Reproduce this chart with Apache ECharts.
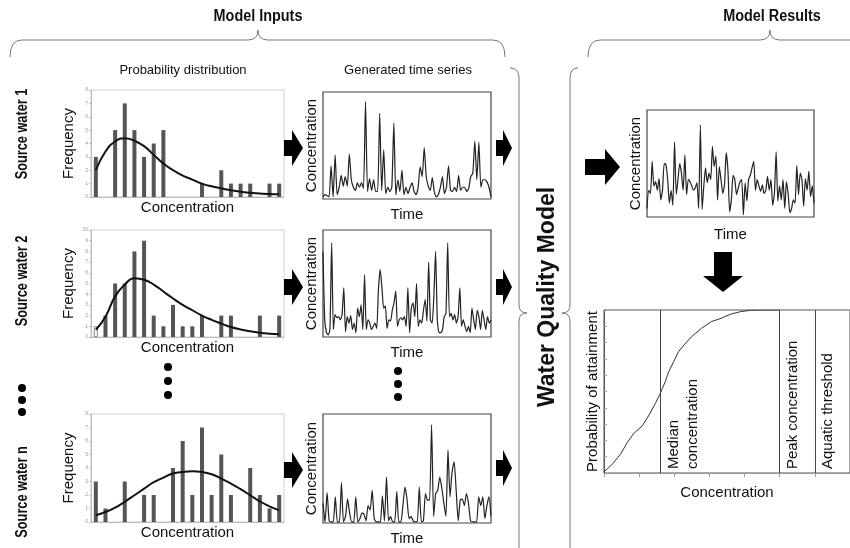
<!DOCTYPE html>
<html>
<head>
<meta charset="utf-8" />
<title>Water quality model</title>
<script src="https://cdn.jsdelivr.net/npm/echarts@6/dist/echarts.min.js"></script>
<style>
    html, body { margin: 0; padding: 0; background: #fff; }
    #main { width: 850px; height: 548px; }
</style>
</head>
<body>
<div id="main"></div>
<script type="text/javascript">
    // histogram bins (concentration classes)
    var binLabels = ['c1', 'c2', 'c3', 'c4', 'c5', 'c6', 'c7', 'c8', 'c9', 'c10',
                     'c11', 'c12', 'c13', 'c14', 'c15', 'c16', 'c17', 'c18', 'c19', 'c20'];

    // source water 1
    var hist1 = [3, 0, 5, 7, 5, 3, 4, 5, 0, 0, 0, 1, 0, 2, 1, 1, 1, 0, 1, 1];
    var fit1 = [2.0, 3.4, 4.15, 4.4, 4.2, 3.8, 3.15, 2.5, 2.0, 1.6, 1.3, 1.0, 0.8, 0.65, 0.5, 0.4, 0.32, 0.27, 0.22, 0.2];
    // source water 2
    var hist2 = [1, 2, 5, 5, 8, 9, 2, 1, 3, 1, 1, 2, 0, 2, 2, 0, 0, 2, 0, 2];
    var fit2 = [0.68, 1.9, 3.8, 4.9, 5.5, 5.35, 4.9, 4.25, 3.6, 3.0, 2.5, 2.0, 1.6, 1.25, 0.93, 0.7, 0.53, 0.4, 0.31, 0.25];
    // source water n
    var hist3 = [3, 1, 0, 3, 0, 2, 2, 0, 4, 6, 2, 7, 2, 5, 2, 0, 4, 2, 1, 2];
    var fit3 = [0.5, 0.74, 1.06, 1.5, 1.98, 2.47, 2.95, 3.29, 3.59, 3.71, 3.76, 3.71, 3.54, 3.22, 2.85, 2.43, 1.98, 1.53, 1.16, 0.87];
    var histMax = [8, 10, 8];

    // generated time series (relative concentration, 0-100)
    var ts1 = [2, 4, 3, 2, 31, 2, 41, 4, 11, 22, 12, 21, 12, 42, 18, 11, 8, 15, 11, 15, 10, 91, 7, 19, 8, 18, 7, 7,
               80, 8, 46, 5, 11, 7, 11, 71, 4, 18, 7, 27, 4, 11, 5, 11, 15, 7, 4, 11, 30, 21, 48, 21, 12, 8, 20,
               7, 2, 4, 11, 21, 5, 11, 31, 8, 7, 11, 7, 22, 8, 11, 11, 7, 10, 21, 24, 54, 18, 53, 11, 18, 18, 16, 11, 2];
    var ts2 = [80, 16, 4, 2, 7, 88, 7, 21, 18, 19, 16, 21, 46, 5, 19, 13, 20, 7, 13, 4, 27, 19, 30, 7, 58, 7, 16,
               13, 7, 10, 13, 8, 44, 63, 47, 27, 29, 8, 16, 15, 25, 32, 43, 10, 16, 18, 16, 19, 10, 46, 4, 27, 32,
               19, 50, 10, 16, 13, 25, 35, 15, 70, 16, 13, 38, 80, 16, 4, 4, 7, 19, 22, 88, 19, 22, 16, 21, 13, 19,
               46, 10, 16, 10, 5, 10, 4, 27, 16, 7, 25, 19, 7, 25, 16, 7, 19, 13, 16];
    var tsN = [18, 1, 28, 2, 1, 1, 24, 1, 1, 37, 1, 6, 22, 9, 1, 1, 24, 1, 4, 9, 8, 2, 16, 12, 30, 4, 1, 1, 1, 25,
               2, 42, 2, 6, 1, 1, 29, 1, 1, 16, 33, 22, 4, 6, 2, 1, 1, 33, 1, 2, 27, 21, 21, 90, 6, 27, 30, 42, 32,
               18, 6, 67, 24, 47, 56, 30, 2, 21, 22, 16, 27, 18, 2, 1, 1, 1, 24, 16, 24, 4, 16, 24, 6];

    // model result time series
    var resultTs = [8, 25, 22, 52, 29, 33, 25, 36, 16, 25, 50, 49, 35, 13, 25, 11, 70, 21, 35, 50, 41, 25, 58, 21,
                    35, 33, 29, 25, 27, 32, 8, 86, 7, 29, 46, 32, 41, 35, 66, 47, 57, 16, 47, 35, 22, 30, 60, 44,
                    5, 16, 39, 35, 21, 27, 33, 35, 2, 32, 15, 35, 39, 46, 52, 25, 35, 29, 24, 30, 22, 25, 38, 25,
                    35, 11, 22, 61, 15, 29, 16, 35, 8, 33, 21, 4, 8, 16, 13, 48, 21, 41, 35, 10, 36, 25, 43, 19, 29, 13];

    // probability of attainment curve
    var cdfX = [0, 0.25, 0.48, 0.67, 0.86, 1.09, 1.28, 1.46, 1.6, 1.74, 1.84, 1.98, 2.12, 2.3, 2.49, 2.77, 3.05,
                3.33, 3.61, 3.89, 4.17, 4.44, 5.0];
    var cdfY = [0.006, 0.057, 0.119, 0.19, 0.246, 0.289, 0.355, 0.426, 0.488, 0.559, 0.621, 0.682, 0.744, 0.791,
                0.836, 0.887, 0.928, 0.949, 0.975, 0.99, 0.998, 1, 1];
    var markerX = [1.6, 5.0, 6.0];
    var markerNames = ['Median\nconcentration', 'Peak concentration', 'Aquatic threshold'];

    var FONT = '"Liberation Sans", Arial, sans-serif';

    var grids = [
        { left: 91, top: 90, width: 193, height: 107 },
        { left: 91, top: 230, width: 193, height: 107 },
        { left: 91, top: 414, width: 193, height: 108 },
        { left: 323, top: 92, width: 168, height: 107 },
        { left: 323, top: 230, width: 168, height: 107 },
        { left: 323, top: 414, width: 168, height: 109 },
        { left: 647, top: 110, width: 167, height: 107 },
        { left: 604, top: 310, width: 252, height: 163 }
    ];
    grids.forEach(function (g, i) {
        g.show = true;
        g.backgroundColor = 'transparent';
        if (i < 3) { g.borderColor = '#cfcfcf'; g.borderWidth = 1; }
        else if (i < 7) { g.borderColor = '#444'; g.borderWidth = 1.2; }
        else { g.borderColor = '#555'; g.borderWidth = 1; }
    });

    var nameStyle = { fontFamily: FONT, fontSize: 15, color: '#111' };
    var xAxes = [], yAxes = [], series = [];

    // histograms with fitted distribution
    [[hist1, fit1], [hist2, fit2], [hist3, fit3]].forEach(function (pair, i) {
        xAxes.push({
            gridIndex: i, type: 'category', data: binLabels, boundaryGap: true,
            name: 'Concentration', nameLocation: 'middle', nameGap: 3, nameTextStyle: nameStyle,
            axisLine: { lineStyle: { color: '#bbb' } },
            axisTick: { length: 2, lineStyle: { color: '#bbb' } },
            axisLabel: { show: false }
        });
        yAxes.push({
            gridIndex: i, type: 'value', min: 0, max: histMax[i], interval: 1,
            name: 'Frequency', nameLocation: 'middle', nameGap: 15, nameTextStyle: nameStyle,
            axisLine: { show: true, lineStyle: { color: '#bbb' } },
            axisTick: { show: true, length: 2, lineStyle: { color: '#bbb' } },
            axisLabel: { fontSize: 5, color: '#999', margin: 3 },
            splitLine: { show: false }
        });
        var barData = pair[0].map(function (v, k) {
            // first class of source water 2 is drawn hollow
            if (i === 1 && k === 0) {
                return { value: v, itemStyle: { color: '#fff', borderColor: '#888', borderWidth: 1 } };
            }
            return v;
        });
        series.push({
            type: 'bar', xAxisIndex: i, yAxisIndex: i, data: barData, barWidth: 4,
            itemStyle: { color: '#555' }, silent: true
        });
        series.push({
            type: 'line', xAxisIndex: i, yAxisIndex: i, data: pair[1], smooth: true,
            symbol: 'none', z: 5, lineStyle: { color: '#111', width: 2 }, silent: true
        });
    });

    // time series panels
    [[ts1, 3], [ts2, 4], [tsN, 5], [resultTs, 6]].forEach(function (pair) {
        var data = pair[0], gi = pair[1];
        xAxes.push({
            gridIndex: gi, type: 'category', boundaryGap: false,
            data: data.map(function (v, k) { return k; }),
            name: 'Time', nameLocation: 'middle', nameGap: gi === 6 ? 10 : 8, nameTextStyle: nameStyle,
            axisLine: { show: false }, axisTick: { show: false }, axisLabel: { show: false }
        });
        yAxes.push({
            gridIndex: gi, type: 'value', min: 0, max: 100,
            name: 'Concentration', nameLocation: 'middle', nameGap: 4, nameTextStyle: nameStyle,
            axisLine: { show: false }, axisTick: { show: false }, axisLabel: { show: false },
            splitLine: { show: false }
        });
        series.push({
            type: 'line', xAxisIndex: xAxes.length - 1, yAxisIndex: yAxes.length - 1, data: data,
            smooth: 0.2, symbol: 'none', lineStyle: { color: '#222', width: 1.2 }, silent: true
        });
    });

    // probability of attainment
    xAxes.push({
        gridIndex: 7, type: 'value', min: 0, max: 7, interval: 1,
        name: 'Concentration', nameLocation: 'middle', nameGap: 12, nameTextStyle: nameStyle,
        axisLine: { lineStyle: { color: '#999' } },
        axisTick: { length: 4, lineStyle: { color: '#999' } },
        axisLabel: { show: false }, splitLine: { show: false }
    });
    yAxes.push({
        gridIndex: 7, type: 'value', min: 0, max: 1, interval: 0.1,
        name: 'Probability of attainment', nameLocation: 'middle', nameGap: 4, nameTextStyle: nameStyle,
        axisLine: { lineStyle: { color: '#555' } },
        axisTick: { inside: true, length: 3, lineStyle: { color: '#999' } },
        axisLabel: { show: false }, splitLine: { show: false }
    });
    series.push({
        type: 'line', xAxisIndex: 7, yAxisIndex: 7, silent: true,
        data: cdfX.map(function (x, k) { return [x, cdfY[k]]; }),
        symbol: 'none', lineStyle: { color: '#333', width: 1 },
        markLine: {
            silent: true, symbol: 'none', animation: false,
            lineStyle: { color: '#444', width: 1, type: 'solid' },
            label: {
                show: true, position: 'insideStartBottom', distance: 4,
                formatter: '{b}', fontFamily: FONT, fontSize: 15, color: '#111', lineHeight: 19
            },
            data: markerX.map(function (x, k) { return { xAxis: x, name: markerNames[k] }; })
        }
    });

    // decorations: braces, arrows, dots, titles
    function brace(pts) {
        return pts.map(function (p) {
            if (p.length === 4) {
                return { type: 'line', shape: { x1: p[0], y1: p[1], x2: p[2], y2: p[3] },
                         style: { stroke: '#777', lineWidth: 1 } };
            }
            return { type: 'bezierCurve',
                     shape: { x1: p[0], y1: p[1], cpx1: p[2], cpy1: p[3], x2: p[4], y2: p[5] },
                     style: { stroke: '#777', lineWidth: 1, fill: null } };
        });
    }
    function arrowRight(x0, x1, cy, bh, hh, hl) {
        return { type: 'polygon', shape: { points: [[x0, cy - bh], [x1 - hl, cy - bh], [x1 - hl, cy - hh], [x1, cy],
                 [x1 - hl, cy + hh], [x1 - hl, cy + bh], [x0, cy + bh]] }, style: { fill: '#000' } };
    }
    function arrowDown(cx, y0, y1, bw, hw, hl) {
        return { type: 'polygon', shape: { points: [[cx - bw, y0], [cx + bw, y0], [cx + bw, y1 - hl], [cx + hw, y1 - hl],
                 [cx, y1], [cx - hw, y1 - hl], [cx - bw, y1 - hl]] }, style: { fill: '#000' } };
    }
    function dot(x, y) {
        return { type: 'circle', shape: { cx: x, cy: y, r: 4 }, style: { fill: '#000' } };
    }
    function label(text, x, y, size, bold, rot, sx) {
        return { type: 'text', x: x, y: y, rotation: rot || 0, scaleX: sx || 1,
                 style: { text: text, fontFamily: FONT, fontSize: size, fontWeight: bold ? 'bold' : 'normal',
                          fill: '#111', textAlign: 'center', textVerticalAlign: 'middle' } };
    }

    var graphic = [].concat(
        brace([[10, 57, 10, 40, 22, 40], [22, 40, 248, 40], [248, 40, 258, 40, 258, 30], [258, 30, 258, 40, 268, 40],
               [268, 40, 493, 40], [493, 40, 505, 40, 505, 57]]),
        brace([[588, 57, 588, 40, 600, 40], [600, 40, 760, 40], [760, 40, 770, 40, 770, 30], [770, 30, 770, 40, 780, 40],
               [780, 40, 850, 40]]),
        brace([[510, 68, 519, 68, 519, 78], [519, 78, 519, 305], [519, 305, 519, 313, 527, 313], [527, 313, 519, 313, 519, 321],
               [519, 321, 519, 548]]),
        brace([[578, 68, 570, 68, 570, 78], [570, 78, 570, 305], [570, 305, 570, 313, 562, 313], [562, 313, 570, 313, 570, 321],
               [570, 321, 570, 548]]),
        [
            arrowRight(284, 303, 148, 8, 18, 11), arrowRight(284, 303, 287, 8, 18, 11), arrowRight(284, 303, 470, 8, 18, 11),
            arrowRight(496, 512, 148, 8, 18, 9), arrowRight(496, 512, 287, 8, 18, 9), arrowRight(496, 512, 468, 8, 18, 9),
            arrowRight(585, 620, 167, 8, 18, 15),
            arrowDown(723, 252, 292, 9, 20, 16),
            dot(168, 367), dot(168, 381), dot(168, 395),
            dot(398, 371), dot(398, 384), dot(398, 397),
            dot(22, 388), dot(22, 400), dot(22, 412),
            label('Model Inputs', 258, 17, 16, true, 0, 0.9),
            label('Model Results', 772, 17, 16, true, 0, 0.9),
            label('Probability distribution', 183, 70, 13, false),
            label('Generated time series', 408, 70, 13, false),
            label('Source water 1', 22, 134, 17, true, Math.PI / 2, 0.75),
            label('Source water 2', 22, 281, 17, true, Math.PI / 2, 0.75),
            label('Source water n', 22, 492, 17, true, Math.PI / 2, 0.75),
            label('Water Quality Model', 548, 297, 23, true, Math.PI / 2, 1)
        ]
    );

    var chart = echarts.init(document.getElementById('main'), null, { renderer: 'canvas' });
    var option = {
        animation: false,
        backgroundColor: '#fff',
        textStyle: { fontFamily: FONT },
        grid: grids,
        xAxis: xAxes,
        yAxis: yAxes,
        series: series,
        graphic: graphic
    };
    chart.setOption(option);
</script>
</body>
</html>
